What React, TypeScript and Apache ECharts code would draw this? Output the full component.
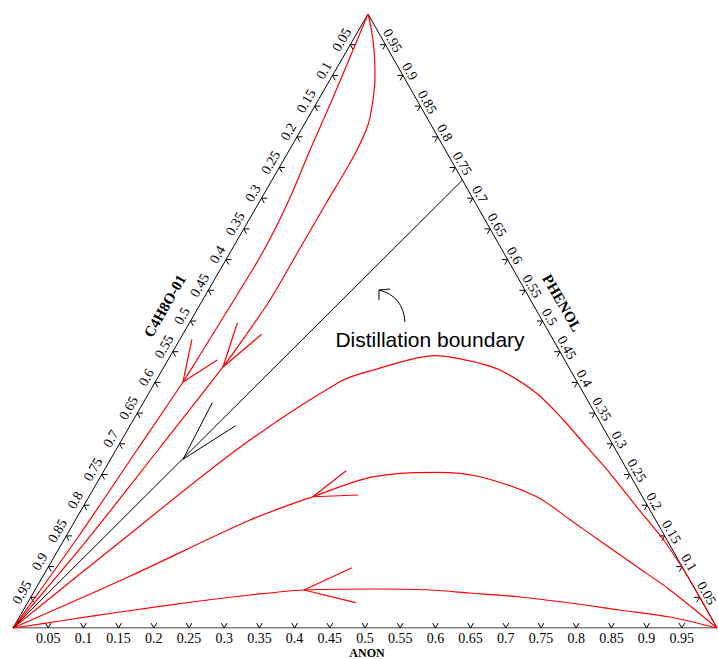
import React, { useEffect, useRef } from "react";
import * as echarts from "echarts";

// Ternary compositions are stored as [ANON, PHENOL]; C4H8O-01 = 1 - ANON - PHENOL.
const APEX_X = 0.5043; // horizontal position of the PHENOL vertex as a fraction of the base

const tickValues = [0.05, 0.1, 0.15, 0.2, 0.25, 0.3, 0.35, 0.4, 0.45, 0.5, 0.55, 0.6, 0.65, 0.7, 0.75, 0.8, 0.85, 0.9, 0.95];
const tickLabels = ["0.05", "0.1", "0.15", "0.2", "0.25", "0.3", "0.35", "0.4", "0.45", "0.5", "0.55", "0.6", "0.65", "0.7", "0.75", "0.8", "0.85", "0.9", "0.95"];

const curveBottom = [
  [0, 0], [0.061, 0.0114], [0.139, 0.0261], [0.243, 0.044], [0.31, 0.0537], [0.382, 0.0619],
  [0.479, 0.0635], [0.561, 0.0619], [0.62, 0.057], [0.695, 0.0505], [0.771, 0.0407],
  [0.847, 0.0293], [0.924, 0.0179], [1, 0],
];
const curveMiddle = [
  [0, 0], [0.124, 0.0847], [0.248, 0.1759], [0.318, 0.2138], [0.388, 0.2464], [0.474, 0.2536],
  [0.539, 0.2464], [0.636, 0.2138], [0.703, 0.1759], [0.769, 0.138], [0.836, 0.0998],
  [0.902, 0.0619], [1, 0],
];
const curveUpper = [
  [0, 0], [0.086, 0.1482], [0.174, 0.2943], [0.262, 0.4011], [0.3, 0.4202], [0.376, 0.4435],
  [0.446, 0.4311], [0.486, 0.4174], [0.551, 0.3822], [0.611, 0.3388], [0.666, 0.2953],
  [0.721, 0.252], [0.786, 0.1976], [0.852, 0.1433], [0.922, 0.0782], [1, 0],
];
const curveApexLeft = [
  [0, 1], [0.0082, 0.9414], [0.0195, 0.8599], [0.0293, 0.7785], [0.0405, 0.6971], [0.0461, 0.6156],
  [0.0445, 0.5342], [0.0416, 0.4528], [0.0394, 0.4007], [0.0299, 0.2899], [0.0172, 0.1433], [0, 0],
];
const curveApexRight = [
  [0, 1], [0.0181, 0.9739], [0.0381, 0.9414], [0.06, 0.9007], [0.0777, 0.8599], [0.0911, 0.8192],
  [0.096, 0.7785], [0.0967, 0.7378], [0.0959, 0.6971], [0.0958, 0.6156], [0.0957, 0.5342],
  [0.0903, 0.4772], [0.0839, 0.4251], [0.0598, 0.2899], [0.0328, 0.1433], [0, 0],
];
const boundaryLine = [[0, 0], [0.2705, 0.7296]];

// arrowheads: [arm1, tip, arm2]
const arrowsRed = [
  [[0.432, 0.0982], [0.382, 0.0619], [0.466, 0.0412]],
  [[0.344, 0.2562], [0.318, 0.2138], [0.381, 0.2166]],
  [[0.017, 0.4702], [0.0394, 0.4007], [0.07, 0.4365]],
  [[0.068, 0.4972], [0.0839, 0.4251], [0.112, 0.4783]],
];
const arrowsBlack = [
  [[0.098, 0.3669], [0.103, 0.2748], [0.15, 0.3295]],
];

const tern = (a: number, p: number) => [a + APEX_X * p, p];
const toXY = (pts: number[][]) => pts.map(([a, p]) => tern(a, p));

const TICK = 0.008;
const RED = "#ff0000";
const SERIF = '"Liberation Serif", "Times New Roman", serif';

export default function App() {
  const ref = useRef<HTMLDivElement>(null);
  useEffect(() => {
    if (!ref.current) return;
    const chart = echarts.init(ref.current, undefined, { renderer: "svg" });

    const tickData: number[][] = [];
    tickValues.forEach((v) => {
      tickData.push([...tern(v, 0), ...tern(v, TICK), ...tern(v - TICK, TICK)]);
      tickData.push([...tern(1 - v, v), ...tern(1 - v - TICK, v), ...tern(1 - v, v - TICK)]);
      tickData.push([...tern(0, 1 - v), ...tern(TICK, 1 - v), ...tern(TICK, 1 - v - TICK)]);
    });

    const labelSeries = (pts: number[][], rot: number, nx: number, ny: number, dist: number) => ({
      type: "custom",
      coordinateSystem: "cartesian2d",
      clip: false,
      silent: true,
      data: pts,
      encode: { x: 0, y: 1 },
      renderItem: (params: any, api: any) => {
        const c = api.coord([api.value(0), api.value(1)]);
        return {
          type: "text",
          x: c[0] + nx * dist,
          y: c[1] + ny * dist,
          rotation: rot,
          style: {
            text: tickLabels[params.dataIndex],
            fill: "#000",
            font: `14px ${SERIF}`,
            align: "center",
            verticalAlign: "middle",
          },
        };
      },
    });

    const lineSeries = (pts: number[][], color: string, width = 1.2, smooth: number | boolean = 0.3) => ({
      type: "line",
      data: toXY(pts),
      symbol: "none",
      smooth,
      silent: true,
      lineStyle: { color, width },
    });

    const series: any[] = [
      lineSeries([[0, 0], [1, 0], [0, 1], [0, 0]], "#000", 1, false),
      {
        type: "custom",
        coordinateSystem: "cartesian2d",
        clip: false,
        silent: true,
        data: tickData,
        encode: { x: 0, y: 1 },
        renderItem: (params: any, api: any) => {
          const b = api.coord([api.value(0), api.value(1)]);
          const e1 = api.coord([api.value(2), api.value(3)]);
          const e2 = api.coord([api.value(4), api.value(5)]);
          const st = { stroke: "#000", lineWidth: 1 };
          return {
            type: "group",
            children: [
              { type: "line", shape: { x1: b[0], y1: b[1], x2: e1[0], y2: e1[1] }, style: st },
              { type: "line", shape: { x1: b[0], y1: b[1], x2: e2[0], y2: e2[1] }, style: st },
            ],
          };
        },
      },
      labelSeries(tickValues.map((v) => tern(v, 0)), 0, 0, 1, 10),
      labelSeries(tickValues.map((v) => tern(1 - v, v)), -Math.PI / 3, 0.866, -0.5, 8),
      labelSeries(tickValues.map((v) => tern(0, 1 - v)), Math.PI / 3, -0.866, -0.5, 10),
      lineSeries(curveBottom, RED),
      lineSeries(curveMiddle, RED),
      lineSeries(curveUpper, RED),
      lineSeries(curveApexLeft, RED),
      lineSeries(curveApexRight, RED),
      lineSeries(boundaryLine, "#000", 1, false),
      ...arrowsRed.map((a) => lineSeries(a, RED, 1.2, false)),
      ...arrowsBlack.map((a) => lineSeries(a, "#000", 1, false)),
    ];

    chart.setOption({
      animation: false,
      backgroundColor: "#fff",
      grid: { left: 13, top: 14, width: 704, height: 614 },
      xAxis: { type: "value", min: 0, max: 1, show: false },
      yAxis: { type: "value", min: 0, max: 1, show: false },
      series,
      graphic: [
        {
          type: "text",
          x: 430,
          y: 339,
          style: { text: "Distillation boundary", fill: "#000", font: '21px "Liberation Sans", Arial, sans-serif', align: "center", verticalAlign: "middle" },
        },
        {
          type: "bezierCurve",
          shape: { x1: 405, y1: 322, x2: 379, y2: 290, cpx1: 403, cpy1: 296 },
          style: { stroke: "#000", fill: null, lineWidth: 1 },
        },
        {
          type: "polyline",
          shape: { points: [[379, 300], [379, 290], [390, 289]] },
          style: { stroke: "#000", fill: null, lineWidth: 1 },
        },
        {
          type: "text",
          x: 367,
          y: 653,
          style: { text: "ANON", fill: "#000", font: `bold 12px ${SERIF}`, align: "center", verticalAlign: "middle" },
        },
        {
          type: "text",
          x: 165,
          y: 306,
          rotation: Math.PI / 3,
          style: { text: "C4H8O-01", fill: "#000", font: `bold 15px ${SERIF}`, align: "center", verticalAlign: "middle" },
        },
        {
          type: "text",
          x: 562,
          y: 303,
          rotation: -Math.PI / 3,
          style: { text: "PHENOL", fill: "#000", font: `bold 15px ${SERIF}`, align: "center", verticalAlign: "middle" },
        },
      ],
    });
    return () => chart.dispose();
  }, []);
  return <div ref={ref} style={{ position: "absolute", left: 0, top: 0, width: 718, height: 659 }} />;
}
